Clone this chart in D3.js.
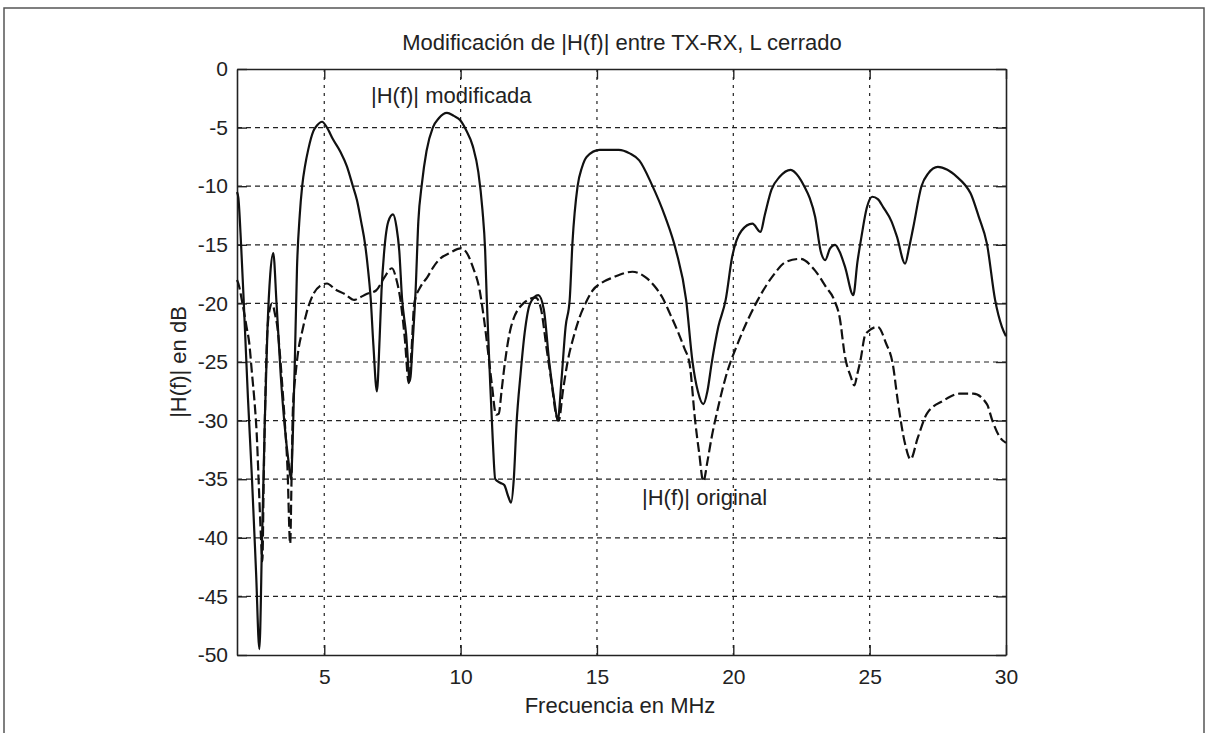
<!DOCTYPE html>
<html>
<head>
<meta charset="utf-8">
<script src="https://cdn.jsdelivr.net/npm/d3@7"></script>
<style>
  body { margin: 0; background: #fff; }
  svg { display: block; font-family: "Liberation Sans", Arial, sans-serif; }
</style>
</head>
<body>
<div id="chart"></div>
<script>
// frequency (MHz) and |H(f)| (dB)
const modFreq = [1.8, 1.85, 1.95, 2.05, 2.2, 2.35, 2.5, 2.62, 2.72, 2.82, 2.92, 3.02, 3.13, 3.25, 3.4, 3.55, 3.7, 3.78, 3.85, 3.92,
  4.0, 4.1, 4.19, 4.3, 4.41, 4.6, 4.74, 4.92, 5.1, 5.32, 5.6, 5.83, 6.05, 6.2, 6.35, 6.5, 6.6, 6.7, 6.8, 6.93,
  7.03, 7.1, 7.2, 7.35, 7.52, 7.65, 7.75, 7.85, 8.0, 8.14, 8.25, 8.35, 8.45, 8.58, 8.75, 8.98, 9.2, 9.5, 9.75, 9.98,
  10.2, 10.45, 10.65, 10.8, 10.9, 10.96, 11.07, 11.18, 11.27, 11.45, 11.6, 11.75, 11.85, 11.95, 12.05, 12.2, 12.35, 12.55, 12.85, 13.05,
  13.25, 13.45, 13.56, 13.7, 13.85, 14.0, 14.1, 14.29, 14.45, 14.62, 15.1, 15.8, 16.2, 16.55, 17.0, 17.5, 17.9, 18.27, 18.5, 18.7,
  18.9, 19.05, 19.2, 19.45, 19.72, 19.96, 20.3, 20.7, 21.0, 21.15, 21.4, 21.7, 22.1, 22.4, 22.6, 22.8, 23.0, 23.2, 23.37, 23.55,
  23.73, 23.9, 24.1, 24.4, 24.55, 24.7, 24.9, 25.1, 25.3, 25.5, 25.8, 26.0, 26.3, 26.45, 26.6, 26.9, 27.15, 27.5, 27.85, 28.2,
  28.5, 28.7, 29.0, 29.3, 29.6, 29.85, 30.0];
const modDb = [-10.5, -11, -15, -20, -28, -35, -43, -49.5, -40, -30, -22, -17.5, -15.7, -20, -26, -30.5, -33.7, -35, -31, -25,
  -17, -12.5, -10, -8.2, -6.9, -5.3, -4.8, -4.5, -5, -6.0, -7.1, -8.3, -10, -11.2, -13, -15, -17, -19.5, -23.5, -27.5,
  -23, -18.9, -15.5, -13, -12.4, -13.5, -15.5, -19.5, -22.6, -26.6, -23, -18.9, -13, -9.8, -7, -5, -4.2, -3.75, -4, -4.35,
  -5.2, -6.6, -8.8, -12, -15.5, -19.7, -26, -31.7, -35, -35.3, -35.5, -36.5, -37, -35, -30.3, -26, -22.5, -20, -19.3, -20.5,
  -25, -28.5, -30, -26.5, -22, -19.7, -14.9, -10, -8.4, -7.5, -6.9, -6.9, -7.2, -7.8, -9.8, -12.6, -15.5, -19.7, -24.9, -27.5,
  -28.6, -27.5, -25.2, -22, -19.7, -16, -13.8, -13.2, -13.9, -12.5, -10.3, -9.2, -8.6, -9.2, -10, -11, -12.6, -15.5, -16.3, -15.3,
  -15, -15.6, -16.9, -19.3, -16.5, -14.3, -11.8, -10.9, -11.1, -11.8, -13, -14.3, -16.6, -15.2, -13.5, -10, -8.9, -8.35, -8.6, -9.2,
  -9.9, -10.6, -12.6, -14.9, -19.7, -22, -22.8];

const origFreq = [1.8, 1.85, 2.0, 2.15, 2.25, 2.35, 2.45, 2.52, 2.6, 2.68, 2.73, 2.78, 2.85, 2.9, 3.0, 3.09, 3.2, 3.28, 3.38, 3.46,
  3.55, 3.65, 3.75, 3.8, 3.85, 3.95, 4.05, 4.2, 4.34, 4.6, 4.85, 5.1, 5.4, 5.75, 6.1, 6.3, 6.55, 6.9, 7.2, 7.48,
  7.65, 7.8, 7.95, 8.1, 8.2, 8.3, 8.55, 8.77, 9.0, 9.24, 9.6, 10.0, 10.2, 10.45, 10.7, 10.85, 11.0, 11.15, 11.3, 11.4,
  11.5, 11.6, 11.85, 12.3, 12.75, 12.95, 13.15, 13.35, 13.5, 13.6, 13.75, 13.93, 14.15, 14.36, 14.6, 14.84, 15.2, 15.57, 16.3, 16.8,
  17.1, 17.4, 17.7, 18.0, 18.2, 18.4, 18.6, 18.75, 18.9, 19.05, 19.2, 19.45, 19.72, 20.2, 20.9, 21.5, 21.9, 22.45, 23.0, 23.4,
  23.7, 23.9, 24.1, 24.3, 24.44, 24.55, 24.66, 24.85, 25.3, 25.6, 25.85, 26.03, 26.3, 26.5, 26.76, 27.1, 27.7, 28.3, 28.8, 29.3,
  29.5, 29.8, 30.0];
const origDb = [-18, -18.3, -20, -22, -23.4, -26, -28.6, -31, -35.5, -40, -42, -35, -27, -23, -20.5, -20, -21, -22, -24.5, -27,
  -30, -34, -40.5, -35, -29, -26, -24, -22.3, -20.9, -19.2, -18.5, -18.3, -18.8, -19.2, -19.7, -19.5, -19.2, -18.9, -17.8, -17,
  -18, -19.8, -22.9, -26.8, -24, -20, -18.5, -17.8, -16.9, -16.2, -15.7, -15.3, -15.6, -16.9, -18.9, -21.2, -24, -27, -29.5, -29.4,
  -27.5, -25.5, -22, -20, -19.5, -20.5, -23.8, -27, -29.5, -30, -27.5, -24.9, -22.8, -21.2, -19.9, -18.9, -18.2, -17.8, -17.3, -17.8,
  -18.5, -19.5, -21, -22.6, -23.8, -25.2, -30, -32.8, -35.2, -33.5, -31.5, -28.8, -26.3, -23.2, -19.7, -17.5, -16.5, -16.2, -17.2, -18.6,
  -19.7, -21.2, -24.6, -26.2, -27, -26, -24.9, -22.6, -22, -23.4, -25.2, -28.3, -32, -33.3, -31.5, -29.4, -28.3, -27.7, -27.7, -28.6,
  -30, -31.5, -31.9];

const xTicks = [5, 10, 15, 20, 25, 30];
const yTicks = [0, -5, -10, -15, -20, -25, -30, -35, -40, -45, -50];

const W = 1208, H = 733;
const margin = { left: 237, right: 202, top: 69, bottom: 78 };
const iw = W - margin.left - margin.right;
const ih = H - margin.top - margin.bottom;
const ink = "#222";

const svg = d3.select("#chart").append("svg")
  .attr("width", W)
  .attr("height", H);

// frame round the whole figure
svg.append("rect")
  .attr("x", 4).attr("y", 8)
  .attr("width", 1200).attr("height", 740)
  .attr("fill", "none")
  .attr("stroke", "#555")
  .attr("stroke-width", 1.5);

const g = svg.append("g")
  .attr("transform", `translate(${margin.left},${margin.top})`);

const x = d3.scaleLinear().domain([1.8, 30]).range([0, iw]);
const y = d3.scaleLinear().domain([-50, 0]).range([ih, 0]);

// grid
g.append("g").selectAll("line")
  .data(yTicks.filter(d => d > -50 && d < 0))
  .join("line")
  .attr("x1", 0).attr("x2", iw)
  .attr("y1", d => y(d)).attr("y2", d => y(d))
  .attr("stroke", ink).attr("stroke-width", 1.2)
  .attr("stroke-dasharray", "5,4");

g.append("g").selectAll("line")
  .data(xTicks.filter(d => d < 30))
  .join("line")
  .attr("y1", 0).attr("y2", ih)
  .attr("x1", d => x(d)).attr("x2", d => x(d))
  .attr("stroke", ink).attr("stroke-width", 1.2)
  .attr("stroke-dasharray", "3,5");

// axes, ticks inward, on all four sides
const fmt = d => String(d);
const axB = g.append("g").attr("transform", `translate(0,${ih})`)
  .call(d3.axisBottom(x).tickValues(xTicks).tickFormat(fmt).tickSizeInner(-10).tickSizeOuter(0).tickPadding(14));
const axT = g.append("g")
  .call(d3.axisTop(x).tickValues(xTicks).tickSizeInner(-10).tickSizeOuter(0).tickFormat(""));
const axL = g.append("g")
  .call(d3.axisLeft(y).tickValues(yTicks).tickFormat(fmt).tickSizeInner(-10).tickSizeOuter(0).tickPadding(9));
const axR = g.append("g").attr("transform", `translate(${iw},0)`)
  .call(d3.axisRight(y).tickValues(yTicks).tickSizeInner(-10).tickSizeOuter(0).tickFormat(""));

[axB, axT, axL, axR].forEach(a => {
  a.select(".domain").attr("stroke", ink).attr("stroke-width", 1.6);
  a.selectAll(".tick line").attr("stroke", ink).attr("stroke-width", 1.4);
  a.selectAll(".tick text")
    .attr("fill", ink)
    .style("font-size", "21px")
    .style("font-family", "Liberation Sans, Arial, sans-serif");
});

// curves
const line = d3.line()
  .x(d => x(d[0]))
  .y(d => y(d[1]))
  .curve(d3.curveMonotoneX);

const modData = modFreq.map((f, i) => [f, modDb[i]]);
const origData = origFreq.map((f, i) => [f, origDb[i]]);

g.append("path")
  .datum(origData)
  .attr("d", line)
  .attr("fill", "none")
  .attr("stroke", "#111")
  .attr("stroke-width", 2.2)
  .attr("stroke-dasharray", "10,4");

g.append("path")
  .datum(modData)
  .attr("d", line)
  .attr("fill", "none")
  .attr("stroke", "#111")
  .attr("stroke-width", 2.2);

// labels
svg.append("text")
  .attr("x", 622).attr("y", 50)
  .attr("text-anchor", "middle")
  .attr("fill", ink)
  .style("font-size", "22px")
  .text("Modificación de |H(f)| entre TX-RX, L cerrado");

svg.append("text")
  .attr("x", 620).attr("y", 713)
  .attr("text-anchor", "middle")
  .attr("fill", ink)
  .style("font-size", "22px")
  .text("Frecuencia en MHz");

svg.append("text")
  .attr("transform", "translate(186,362) rotate(-90)")
  .attr("text-anchor", "middle")
  .attr("fill", ink)
  .style("font-size", "22px")
  .text("|H(f)| en dB");

svg.append("text")
  .attr("x", 371).attr("y", 103)
  .attr("fill", ink)
  .style("font-size", "22px")
  .text("|H(f)| modificada");

svg.append("text")
  .attr("x", 642).attr("y", 505)
  .attr("fill", ink)
  .style("font-size", "22px")
  .text("|H(f)| original");
</script>
</body>
</html>
